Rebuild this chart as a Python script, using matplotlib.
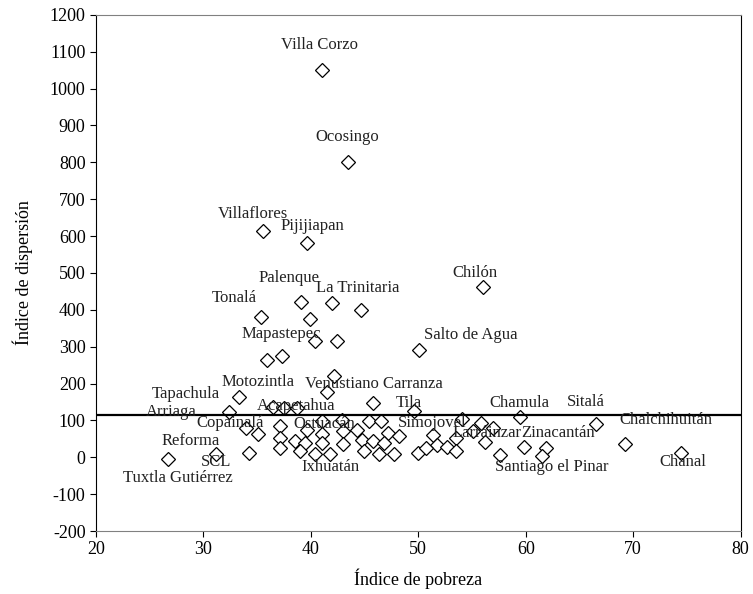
import matplotlib.pyplot as plt

# Datos: índice de pobreza (x) e índice de dispersión (y) por municipio
pobreza = [
    41.0, 43.5, 35.5, 39.6, 56.0, 39.1, 42.0, 44.7, 35.4, 39.9,
    40.4, 42.4, 50.1, 35.9, 37.3, 42.2, 41.5, 33.3, 45.8,
    36.5, 37.5, 38.7, 32.4, 49.6, 59.5, 54.1, 42.9, 41.0,
    45.4, 46.5, 55.8, 66.5, 57.0, 34.0, 37.1, 39.6,
    35.1, 41.0, 43.0, 44.3, 47.2, 48.2, 51.4, 55.1, 37.1, 53.5,
    38.5, 39.5, 41.0, 43.0, 44.8, 45.8, 46.8, 51.7, 56.2, 69.2,
    37.1, 39.0, 34.2, 31.2, 40.4, 41.8, 44.9, 46.3, 47.7, 50.0,
    50.7, 52.7, 53.5, 59.8, 61.9, 57.6, 61.5, 74.5, 26.7,
]
dispersion = [
    1050, 800, 615, 580, 462, 420, 418, 400, 380, 375,
    315, 315, 292, 265, 275, 220, 178, 163, 148,
    136, 134, 134, 122, 125, 110, 105, 102, 98,
    98, 98, 92, 90, 80, 80, 84, 75,
    62, 62, 71, 75, 66, 57, 60, 71, 53, 52,
    44, 39, 39, 35, 48, 44, 39, 33, 42, 35,
    26, 17, 12, 10, 8, 8, 17, 10, 8, 12,
    24, 28, 17, 28, 26, 5, 3, 12, -5,
]

# Etiquetas de municipios (texto, x, y)
etiquetas = [
    ("Villa Corzo", 40.8, 1119), ("Ocosingo", 43.4, 869),
    ("Villaflores", 34.6, 661), ("Pijijiapan", 40.1, 626),
    ("Chilón", 55.3, 501), ("Palenque", 38.0, 485),
    ("La Trinitaria", 44.4, 460), ("Tonalá", 32.9, 433),
    ("Mapastepec", 37.2, 335), ("Salto de Agua", 54.9, 333),
    ("Motozintla", 35.1, 203), ("Venustiano Carranza", 45.9, 200),
    ("Tapachula", 28.4, 173), ("Tila", 49.1, 146),
    ("Chamula", 59.4, 146), ("Sitalá", 65.6, 149),
    ("Acapetahua", 38.6, 140), ("Arriaga", 27.0, 124),
    ("Chalchihuitán", 73.0, 100), ("Copainalá", 32.5, 92),
    ("Ostuacán", 41.2, 89), ("Simojovel", 51.3, 92),
    ("Larráinzar", 56.4, 67), ("Zinacantán", 63.0, 65),
    ("Reforma", 28.8, 43), ("SCL", 31.2, -14),
    ("Ixhuatán", 41.8, -25), ("Santiago el Pinar", 62.4, -25),
    ("Chanal", 74.6, -14), ("Tuxtla Gutiérrez", 27.6, -55),
]

linea_media = 115

plt.rcParams["font.family"] = ["Liberation Serif", "DejaVu Serif"]
plt.rcParams["axes.unicode_minus"] = False

fig = plt.figure(figsize=(7.53, 5.94), dpi=100)
ax = fig.add_axes([0.1275, 0.106, 0.856, 0.869])

ax.plot(pobreza, dispersion, linestyle="none", marker="D", markersize=7,
        markerfacecolor="white", markeredgecolor="black", markeredgewidth=0.9)
ax.axhline(linea_media, color="black", linewidth=1.6)

for texto, x, y in etiquetas:
    ax.text(x, y, texto, ha="center", va="center", fontsize=12, color="#222222")

ax.set_xlim(20, 80)
ax.set_ylim(-200, 1200)
ax.set_xticks(range(20, 81, 10))
ax.set_yticks(range(-200, 1201, 100))
ax.tick_params(direction="out", length=4, labelsize=13, color="black")

ax.spines["left"].set_color("black")
ax.spines["right"].set_color("black")
ax.spines["top"].set_color("#808080")
ax.spines["bottom"].set_color("#808080")

ax.set_xlabel("Índice de pobreza", fontsize=13, labelpad=7)
ax.set_ylabel("Índice de dispersión", fontsize=13, labelpad=12)

fig.savefig("out.png", dpi=100)
